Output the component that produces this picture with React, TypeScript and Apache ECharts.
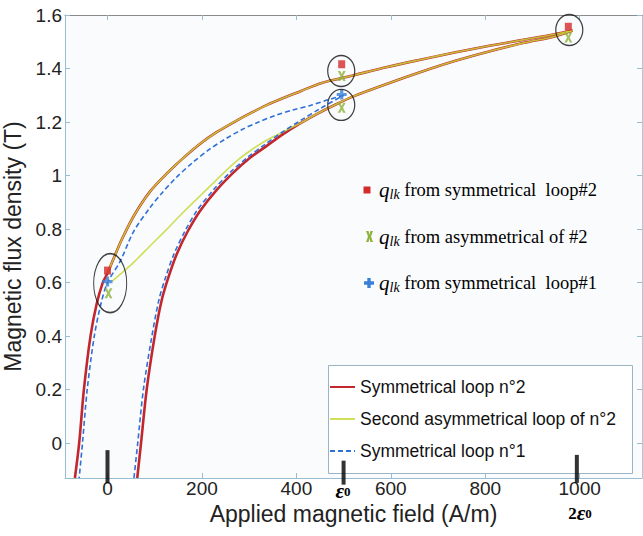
import React, { useEffect, useRef } from 'react';
import * as echarts from 'echarts';

// ---------- data ----------
const xTicks = [0, 200, 400, 600, 800, 1000];
const yTicks = [0, 0.2, 0.4, 0.6, 0.8, 1, 1.2, 1.4, 1.6];
const xTickLabels = ['0', '200', '400', '600', '800', '1000'];
const yTickLabels = ['0', '0.2', '0.4', '0.6', '0.8', '1', '1.2', '1.4', '1.6'];

const seriesNames = ['Symmetrical loop n°2', 'Second asymmetrical loop of n°2', 'Symmetrical loop n°1'];

// Symmetrical loop n°2 (red)
const loop2Ascending = [
  [63, -0.13], [71, 0], [83, 0.2], [100, 0.4], [115, 0.536], [130, 0.625], [147, 0.708], [170, 0.792],
  [196, 0.868], [230, 0.944], [267, 1.012], [300, 1.064], [338, 1.112], [372, 1.155], [408, 1.195],
  [443, 1.23], [479, 1.262], [522, 1.297], [600, 1.348], [665, 1.388], [735, 1.428], [806, 1.463],
  [880, 1.495], [947, 1.52], [985, 1.542],
];
const loop2Descending = [
  [985, 1.542], [947, 1.528], [880, 1.507], [806, 1.484], [735, 1.46], [665, 1.434], [590, 1.405],
  [522, 1.375], [452, 1.345], [410, 1.316], [375, 1.292], [339, 1.265], [305, 1.235], [268, 1.2],
  [232, 1.163], [197, 1.12], [162, 1.068], [127, 1.01], [90, 0.94], [56, 0.85], [30, 0.76], [13, 0.69],
  [0, 0.635], [-10, 0.6], [-23, 0.52], [-36, 0.4], [-50, 0.2], [-60, 0], [-69, -0.13],
];

// Symmetrical loop n°1 (blue dashed)
const loop1Ascending = [
  [56, -0.13], [64, 0], [76, 0.2], [94, 0.4], [109, 0.536], [124, 0.625], [141, 0.708], [164, 0.792],
  [189, 0.868], [224, 0.946], [261, 1.014], [296, 1.067], [334, 1.117], [370, 1.162], [408, 1.205],
  [452, 1.252], [500, 1.3],
];
const loop1Descending = [
  [500, 1.3], [465, 1.282], [430, 1.262], [392, 1.245], [356, 1.225], [320, 1.2], [285, 1.172],
  [250, 1.137], [215, 1.097], [180, 1.048], [144, 0.99], [115, 0.934], [90, 0.88], [55, 0.79],
  [27, 0.68], [0, 0.6], [-14, 0.52], [-28, 0.4], [-43, 0.2], [-53, 0], [-60, -0.13],
];

// Second asymmetrical loop of n°2 (yellow): own rising part, then it follows loop n°2
const asymRisingStart = [
  [10, 0.606], [55, 0.675], [90, 0.737], [126, 0.8], [160, 0.862], [196, 0.924], [232, 0.986],
  [267, 1.045], [300, 1.09], [335, 1.13], [370, 1.162],
];
const asymMergeX = 400;
const asymUpperEndX = 0;

// q_lk points
const qSym2 = [[0, 0.645], [496, 1.416], [976, 1.556]];
const qAsym2 = [[2, 0.56], [496, 1.372], [496, 1.253], [976, 1.516]];
const qSym1 = [[0, 0.604], [496, 1.303]];

// circled groups
const circledLarge = [[5.7, 0.598]];
const circledSmall = [[495, 1.391], [495, 1.264], [978, 1.544]];

// epsilon marks on the field axis
const epsilonMarks = [[0, -0.0875], [500, -0.11], [994, -0.096]];
const epsilonBarHeights = [33, 24, 28];

// ---------- styles ----------
const RED = '#c1272d';
const YELLOW = '#c8d93a';
const BLUE = '#2f6fd8';
const AXIS_BLUE = '#98bcd0';
const SANS = 'Liberation Sans, Arial, sans-serif';
const SERIF = 'Liberation Serif, Times New Roman, serif';

const ELLIPSE = 'path://M 0 50 A 50 50 0 1 1 100 50 A 50 50 0 1 1 0 50 Z';
const XMARK = 'path://M0,0 L3.2,0 L5,3.8 L6.8,0 L10,0 L6.6,6 L10,12 L6.8,12 L5,8.2 L3.2,12 L0,12 L3.4,6 Z';
const PLUS = 'path://M3.4,0 L6.6,0 L6.6,3.4 L10,3.4 L10,6.6 L6.6,6.6 L6.6,10 L3.4,10 L3.4,6.6 L0,6.6 L0,3.4 L3.4,3.4 Z';

function buildOption() {
  const asymAscending = asymRisingStart.concat(loop2Ascending.filter((p) => p[0] >= asymMergeX));
  const asymDescending = loop2Descending.filter((p) => p[0] >= asymUpperEndX);

  const lineBase = (name: string, data: number[][], color: string, width: number, type: any, opacity = 1, z = 2) => ({
    name,
    type: 'line',
    data,
    smooth: 0.3,
    symbol: 'none',
    showSymbol: false,
    lineStyle: { color, width, type, opacity },
    itemStyle: { color },
    z,
  });

  const qRich = (size: number) => ({
    q: { fontFamily: SERIF, fontStyle: 'italic', fontSize: 21, lineHeight: 22, color: '#222', verticalAlign: 'middle' },
    s: { fontFamily: SERIF, fontStyle: 'italic', fontSize: 14, lineHeight: 12, color: '#222', verticalAlign: 'bottom' },
    t: { fontFamily: SERIF, fontSize: size, lineHeight: 22, color: '#222', verticalAlign: 'middle' },
  });

  const epsRich = {
    d: { fontFamily: SERIF, fontWeight: 'bold', fontSize: 17, lineHeight: 14, color: '#111', verticalAlign: 'middle' },
    e: { fontFamily: SERIF, fontWeight: 'bold', fontStyle: 'italic', fontSize: 21, lineHeight: 14, color: '#111', verticalAlign: 'middle' },
    s: { fontFamily: SERIF, fontWeight: 'bold', fontSize: 13, lineHeight: 3, color: '#111', verticalAlign: 'bottom' },
  };

  return {
    animation: false,
    backgroundColor: '#ffffff',
    grid: {
      left: 65, right: 1, top: 15, bottom: 58, show: true, backgroundColor: '#fafbfd', borderWidth: 0,
      containLabel: false, outerBoundsMode: 'none',
    },
    xAxis: [
      {
        type: 'value', min: -90, max: 1132, position: 'bottom',
        name: 'Applied magnetic field (A/m)', nameLocation: 'middle', nameGap: 24,
        nameTextStyle: { fontFamily: SANS, fontSize: 23, color: '#222' },
        axisLine: { show: true, onZero: false, lineStyle: { color: AXIS_BLUE, width: 1 } },
        axisTick: { show: true, inside: true, length: 5, customValues: xTicks, lineStyle: { color: AXIS_BLUE } },
        axisLabel: {
          show: true, customValues: xTicks, margin: 1, fontFamily: SANS, fontSize: 19, color: '#222',
          formatter: (v: number) => xTickLabels[xTicks.indexOf(v)] ?? String(v),
        },
        splitLine: { show: false },
      },
      {
        type: 'value', min: -90, max: 1132, position: 'top',
        axisLine: { show: true, onZero: false, lineStyle: { color: '#8a8a8a', width: 1.2 } },
        axisTick: { show: true, inside: true, length: 5, customValues: xTicks, lineStyle: { color: AXIS_BLUE } },
        axisLabel: { show: false },
        splitLine: { show: false },
      },
    ],
    yAxis: [
      {
        type: 'value', min: -0.13, max: 1.6, position: 'left',
        name: 'Magnetic flux density (T)', nameLocation: 'middle', nameGap: 32,
        nameTextStyle: { fontFamily: SANS, fontSize: 23, color: '#222' },
        axisLine: { show: true, onZero: false, lineStyle: { color: AXIS_BLUE, width: 1 } },
        axisTick: { show: true, inside: true, length: 5, customValues: yTicks, lineStyle: { color: AXIS_BLUE } },
        axisLabel: {
          show: true, customValues: yTicks, margin: 3, fontFamily: SANS, fontSize: 19, color: '#222',
          formatter: (v: number) => yTickLabels[yTicks.indexOf(v)] ?? String(v),
        },
        splitLine: { show: false },
      },
      {
        type: 'value', min: -0.13, max: 1.6, position: 'right',
        axisLine: { show: true, onZero: false, lineStyle: { color: '#b8c8d2', width: 1 } },
        axisTick: { show: true, inside: true, length: 5, customValues: yTicks, lineStyle: { color: AXIS_BLUE } },
        axisLabel: { show: false },
        splitLine: { show: false },
      },
    ],
    legend: {
      data: seriesNames,
      orient: 'vertical',
      left: 329,
      top: 377,
      padding: 0,
      itemWidth: 25,
      itemHeight: 14,
      itemGap: 12,
      selectedMode: false,
      z: 6,
      itemStyle: { opacity: 0 },
      textStyle: { fontFamily: SANS, fontSize: 17.5, color: '#111', lineHeight: 20 },
    },
    graphic: [
      {
        type: 'rect', z: 1,
        shape: { x: 328.5, y: 365.5, width: 304, height: 108 },
        style: { fill: '#ffffff', stroke: '#9ab4c4', lineWidth: 1 },
      },
      // annotation block
      { type: 'rect', z: 5, shape: { x: 363.5, y: 186.5, width: 7, height: 7 }, style: { fill: '#d42a2a' } },
      {
        type: 'text', z: 5, x: 379, y: 190,
        style: { text: '{q|q}{s|lk}{t| from symmetrical  loop#2}', rich: qRich(18.5), verticalAlign: 'middle' },
      },
      {
        type: 'polygon', z: 5, x: 366, y: 231,
        shape: { points: [[0, 0], [2.6, 0], [3.5, 3.8], [4.4, 0], [7, 0], [5, 5.5], [7, 11], [4.4, 11], [3.5, 7.2], [2.6, 11], [0, 11], [2, 5.5]] },
        style: { fill: '#8db33a' },
      },
      {
        type: 'text', z: 5, x: 379, y: 237,
        style: { text: '{q|q}{s|lk}{t| from asymmetrical of #2}', rich: qRich(18.5), verticalAlign: 'middle' },
      },
      {
        type: 'polygon', z: 5, x: 364, y: 278,
        shape: { points: [[3.3, 0], [6.7, 0], [6.7, 3.3], [10, 3.3], [10, 6.7], [6.7, 6.7], [6.7, 10], [3.3, 10], [3.3, 6.7], [0, 6.7], [0, 3.3], [3.3, 3.3]] },
        style: { fill: '#3a80d8' },
      },
      {
        type: 'text', z: 5, x: 379, y: 283,
        style: { text: '{q|q}{s|lk}{t| from symmetrical  loop#1}', rich: qRich(18.5), verticalAlign: 'middle' },
      },
      // epsilon labels
      {
        type: 'text', z: 5, x: 343, y: 491,
        style: { text: '{e|ε}{s|0}', align: 'center', verticalAlign: 'middle', rich: epsRich },
      },
      {
        type: 'text', z: 5, x: 580, y: 513,
        style: { text: '{d|2}{e|ε}{s|0}', align: 'center', verticalAlign: 'middle', rich: epsRich },
      },
    ],
    series: [
      lineBase(seriesNames[0], loop2Ascending, RED, 2.6, 'solid', 1, 2),
      lineBase(seriesNames[0], loop2Descending, RED, 2.6, 'solid', 1, 2),
      lineBase(seriesNames[1], asymAscending, YELLOW, 1.6, 'solid', 0.85, 3),
      lineBase(seriesNames[1], asymDescending, YELLOW, 1.6, 'solid', 0.85, 3),
      lineBase(seriesNames[2], loop1Ascending, BLUE, 1.6, [5, 3], 1, 4),
      lineBase(seriesNames[2], loop1Descending, BLUE, 1.6, [5, 3], 1, 4),
      {
        name: 'q sym2', type: 'scatter', data: qSym2, symbol: 'rect', symbolSize: [7, 8],
        itemStyle: { color: '#d42a2a' }, z: 6,
      },
      {
        name: 'q asym2', type: 'scatter', data: qAsym2, symbol: XMARK, symbolSize: [8, 10],
        itemStyle: { color: '#8db33a' }, z: 6,
      },
      {
        name: 'q sym1', type: 'scatter', data: qSym1, symbol: PLUS, symbolSize: [10, 10],
        itemStyle: { color: '#3a80d8' }, z: 7,
      },
      {
        name: 'circle large', type: 'scatter', data: circledLarge, symbol: ELLIPSE, symbolSize: [33, 59],
        itemStyle: { color: 'rgba(0,0,0,0)', borderColor: '#111', borderWidth: 1.3 }, z: 8, silent: true,
      },
      {
        name: 'circle small', type: 'scatter', data: circledSmall, symbol: ELLIPSE, symbolSize: [27, 31],
        itemStyle: { color: 'rgba(0,0,0,0)', borderColor: '#111', borderWidth: 1.3 }, z: 8, silent: true,
      },
      {
        name: 'epsilon', type: 'scatter', data: epsilonMarks, symbol: 'rect', clip: false,
        symbolSize: (_v: any, p: any) => [4, epsilonBarHeights[p.dataIndex]],
        itemStyle: { color: '#000' }, z: 9, silent: true,
      },
    ],
  };
}

export default function App() {
  const ref = useRef<HTMLDivElement>(null);
  useEffect(() => {
    if (!ref.current) return;
    const chart = echarts.init(ref.current, undefined, { renderer: 'svg' });
    chart.setOption(buildOption() as any);
    return () => chart.dispose();
  }, []);
  return (
    <div
      ref={ref}
      style={{ position: 'absolute', left: 0, top: 0, width: 643, height: 536, background: '#fff' }}
    />
  );
}
